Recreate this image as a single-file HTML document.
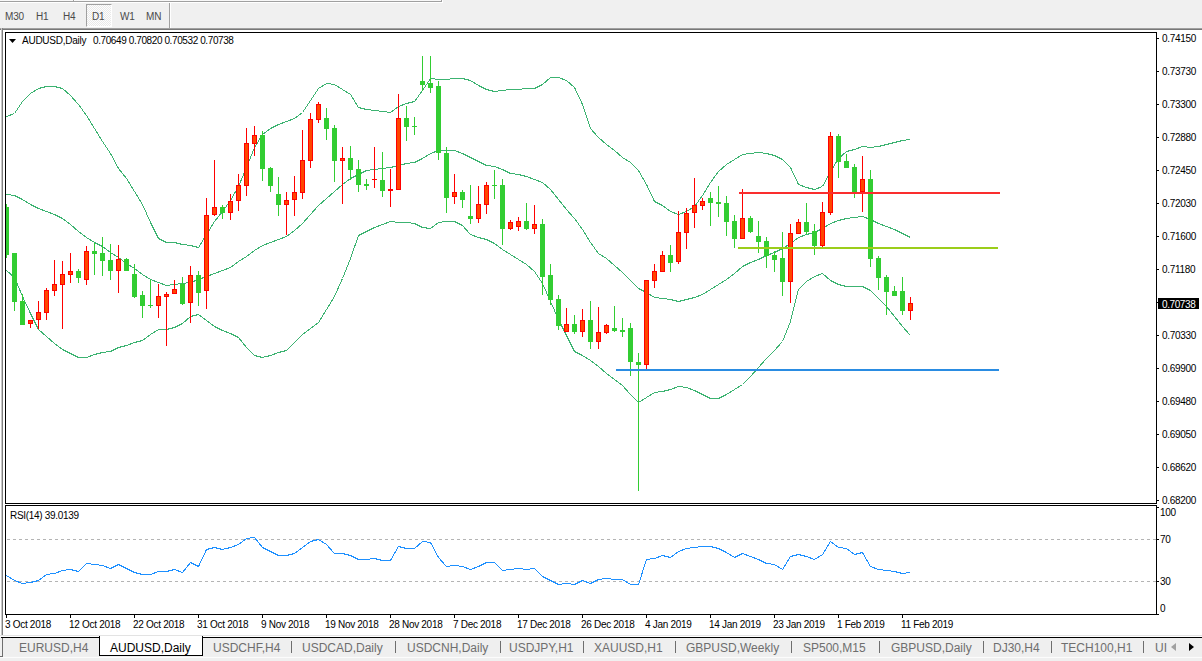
<!DOCTYPE html>
<html><head><meta charset="utf-8"><style>
html,body{margin:0;padding:0;}
body{width:1202px;height:661px;position:relative;overflow:hidden;background:#f0f0f0;font-family:"Liberation Sans",sans-serif;}
.a{position:absolute;}
.t{position:absolute;white-space:nowrap;font-size:10px;line-height:12px;color:#000;letter-spacing:-0.3px;}
.tb{position:absolute;white-space:nowrap;font-size:10px;line-height:12px;color:#4a4a4a;letter-spacing:-0.2px;}
.tab{position:absolute;white-space:nowrap;font-size:12px;line-height:14px;color:#6e6e6e;}
</style></head><body>

<div class="a" style="left:0;top:0;width:441px;height:1px;background:#f8f8f8"></div>
<div class="a" style="left:0;top:1px;width:442px;height:1px;background:#a0a0a0"></div>
<div class="a" style="left:441px;top:0;width:1px;height:2px;background:#a0a0a0"></div>
<div class="a" style="left:0;top:2px;width:443px;height:1px;background:#fff"></div>
<div class="a" style="left:442px;top:0;width:1px;height:3px;background:#fff"></div>
<div class="a" style="left:73px;top:0;width:1px;height:2px;background:#a0a0a0"></div>
<div class="a" style="left:74px;top:0;width:1px;height:1px;background:#fff"></div>
<div class="a" style="left:86px;top:4px;width:24px;height:21px;border-left:1px solid #a0a0a0;border-top:1px solid #a0a0a0;border-right:1px solid #fff;border-bottom:1px solid #fff;background:repeating-conic-gradient(#fdfdfd 0 25%, #e9e9e9 0 50%) 0 0/2px 2px"></div>
<div class="tb" style="left:5px;top:11px">M30</div>
<div class="tb" style="left:36px;top:11px">H1</div>
<div class="tb" style="left:63px;top:11px">H4</div>
<div class="tb" style="left:92px;top:11px">D1</div>
<div class="tb" style="left:120px;top:11px">W1</div>
<div class="tb" style="left:146px;top:11px">MN</div>
<div class="a" style="left:169px;top:3px;width:1px;height:25px;background:#a0a0a0"></div>
<div class="a" style="left:170px;top:3px;width:1px;height:25px;background:#fff"></div>
<div class="a" style="left:0;top:28px;width:1202px;height:1px;background:#a0a0a0"></div>
<div class="a" style="left:0;top:29px;width:1202px;height:1px;background:#787878"></div>
<div class="a" style="left:0;top:30px;width:1202px;height:605px;background:#fff"></div>
<div class="a" style="left:1px;top:28px;width:1px;height:607px;background:#c8c8c8"></div>
<div class="a" style="left:2px;top:28px;width:1px;height:607px;background:#808080"></div>
<svg width="1202" height="661" viewBox="0 0 1202 661" style="position:absolute;left:0;top:0"><defs><clipPath id="cm"><rect x="6" y="33" width="1150" height="470"/></clipPath><clipPath id="cr"><rect x="6" y="506" width="1150" height="108"/></clipPath></defs><g shape-rendering="crispEdges"><rect x="5.5" y="32.5" width="1151" height="471" fill="#fff" stroke="#000" stroke-width="1"/><rect x="5.5" y="505.5" width="1151" height="109" fill="#fff" stroke="#000" stroke-width="1"/></g><g clip-path="url(#cm)"><g fill="none" stroke="#3cb371" stroke-width="1" shape-rendering="crispEdges"><path d="M6.5,116.5 L14.5,113.5 L22.5,101.5 L30.5,93.5 L38.5,88.5 L46.5,86.5 L54.5,86.5 L62.5,88.5 L70.5,95.5 L78.5,104.5 L86.5,115.5 L94.5,128.5 L102.5,141.5 L110.5,153.5 L118.5,168.5 L126.5,178.5 L134.5,191.5 L142.5,204.5 L150.5,222.5 L158.5,238.5 L166.5,242.5 L174.5,242.5 L182.5,244.5 L190.5,245.5 L198.5,247.5 L206.5,234.5 L214.5,221.5 L222.5,211.5 L230.5,200.5 L238.5,186.5 L246.5,167.5 L254.5,147.5 L262.5,134.5 L270.5,128.5 L278.5,124.5 L286.5,121.5 L294.5,118.5 L302.5,112.5 L310.5,100.5 L318.5,88.5 L326.5,83.5 L334.5,84.5 L342.5,89.5 L350.5,94.5 L358.5,107.5 L366.5,109.5 L374.5,110.5 L382.5,111.5 L390.5,112.5 L398.5,106.5 L406.5,103.5 L414.5,101.5 L422.5,90.5 L430.5,78.5 L438.5,79.5 L446.5,79.5 L454.5,78.5 L462.5,78.5 L470.5,80.5 L478.5,85.5 L486.5,89.5 L494.5,91.5 L502.5,90.5 L510.5,89.5 L518.5,89.5 L526.5,88.5 L534.5,88.5 L542.5,84.5 L550.5,77.5 L558.5,77.5 L566.5,80.5 L574.5,87.5 L582.5,104.5 L590.5,128.5 L598.5,137.5 L606.5,144.5 L614.5,150.5 L622.5,157.5 L630.5,162.5 L638.5,170.5 L646.5,184.5 L654.5,201.5 L662.5,205.5 L670.5,211.5 L678.5,214.5 L686.5,211.5 L694.5,206.5 L702.5,195.5 L710.5,182.5 L718.5,171.5 L726.5,164.5 L734.5,159.5 L742.5,154.5 L750.5,153.5 L758.5,152.5 L766.5,153.5 L774.5,155.5 L782.5,159.5 L790.5,167.5 L798.5,184.5 L806.5,187.5 L814.5,189.5 L822.5,186.5 L830.5,171.5 L838.5,158.5 L846.5,151.5 L854.5,149.5 L862.5,146.5 L870.5,147.5 L878.5,146.5 L886.5,144.5 L894.5,142.5 L902.5,140.5 L910.5,139.5"/><path d="M6.5,194.5 L14.5,195.5 L22.5,199.5 L30.5,204.5 L38.5,208.5 L46.5,211.5 L54.5,214.5 L62.5,218.5 L70.5,224.5 L78.5,231.5 L86.5,237.5 L94.5,242.5 L102.5,246.5 L110.5,252.5 L118.5,257.5 L126.5,263.5 L134.5,268.5 L142.5,274.5 L150.5,279.5 L158.5,282.5 L166.5,285.5 L174.5,284.5 L182.5,283.5 L190.5,282.5 L198.5,279.5 L206.5,276.5 L214.5,273.5 L222.5,270.5 L230.5,267.5 L238.5,261.5 L246.5,256.5 L254.5,250.5 L262.5,245.5 L270.5,242.5 L278.5,239.5 L286.5,236.5 L294.5,230.5 L302.5,223.5 L310.5,214.5 L318.5,205.5 L326.5,198.5 L334.5,191.5 L342.5,184.5 L350.5,178.5 L358.5,174.5 L366.5,170.5 L374.5,169.5 L382.5,168.5 L390.5,167.5 L398.5,165.5 L406.5,163.5 L414.5,162.5 L422.5,158.5 L430.5,153.5 L438.5,150.5 L446.5,150.5 L454.5,150.5 L462.5,153.5 L470.5,157.5 L478.5,161.5 L486.5,165.5 L494.5,166.5 L502.5,169.5 L510.5,173.5 L518.5,174.5 L526.5,176.5 L534.5,179.5 L542.5,182.5 L550.5,189.5 L558.5,199.5 L566.5,209.5 L574.5,218.5 L582.5,229.5 L590.5,242.5 L598.5,253.5 L606.5,258.5 L614.5,265.5 L622.5,272.5 L630.5,280.5 L638.5,288.5 L646.5,292.5 L654.5,297.5 L662.5,298.5 L670.5,299.5 L678.5,301.5 L686.5,299.5 L694.5,297.5 L702.5,294.5 L710.5,289.5 L718.5,284.5 L726.5,279.5 L734.5,273.5 L742.5,266.5 L750.5,262.5 L758.5,259.5 L766.5,255.5 L774.5,252.5 L782.5,248.5 L790.5,243.5 L798.5,237.5 L806.5,234.5 L814.5,232.5 L822.5,228.5 L830.5,223.5 L838.5,220.5 L846.5,218.5 L854.5,217.5 L862.5,216.5 L870.5,219.5 L878.5,223.5 L886.5,226.5 L894.5,229.5 L902.5,233.5 L910.5,237.5"/><path d="M6.5,270.5 L14.5,277.5 L22.5,296.5 L30.5,313.5 L38.5,329.5 L46.5,336.5 L54.5,343.5 L62.5,349.5 L70.5,353.5 L78.5,357.5 L86.5,357.5 L94.5,354.5 L102.5,352.5 L110.5,351.5 L118.5,347.5 L126.5,345.5 L134.5,342.5 L142.5,340.5 L150.5,334.5 L158.5,329.5 L166.5,329.5 L174.5,327.5 L182.5,323.5 L190.5,316.5 L198.5,314.5 L206.5,320.5 L214.5,326.5 L222.5,330.5 L230.5,333.5 L238.5,337.5 L246.5,347.5 L254.5,355.5 L262.5,357.5 L270.5,355.5 L278.5,352.5 L286.5,350.5 L294.5,342.5 L302.5,334.5 L310.5,328.5 L318.5,322.5 L326.5,309.5 L334.5,296.5 L342.5,278.5 L350.5,258.5 L358.5,235.5 L366.5,231.5 L374.5,227.5 L382.5,224.5 L390.5,221.5 L398.5,222.5 L406.5,222.5 L414.5,223.5 L422.5,227.5 L430.5,228.5 L438.5,222.5 L446.5,221.5 L454.5,221.5 L462.5,225.5 L470.5,234.5 L478.5,237.5 L486.5,239.5 L494.5,243.5 L502.5,249.5 L510.5,254.5 L518.5,259.5 L526.5,264.5 L534.5,271.5 L542.5,283.5 L550.5,301.5 L558.5,319.5 L566.5,335.5 L574.5,351.5 L582.5,355.5 L590.5,360.5 L598.5,366.5 L606.5,373.5 L614.5,379.5 L622.5,385.5 L630.5,394.5 L638.5,402.5 L646.5,397.5 L654.5,392.5 L662.5,391.5 L670.5,389.5 L678.5,386.5 L686.5,387.5 L694.5,390.5 L702.5,394.5 L710.5,398.5 L718.5,398.5 L726.5,394.5 L734.5,389.5 L742.5,384.5 L750.5,376.5 L758.5,367.5 L766.5,358.5 L774.5,350.5 L782.5,341.5 L790.5,321.5 L798.5,289.5 L806.5,281.5 L814.5,276.5 L822.5,273.5 L830.5,280.5 L838.5,284.5 L846.5,286.5 L854.5,286.5 L862.5,286.5 L870.5,290.5 L878.5,298.5 L886.5,306.5 L894.5,316.5 L902.5,326.5 L910.5,335.5"/></g><g shape-rendering="crispEdges"><rect x="6" y="204" width="1" height="54" fill="#32cd32"/><rect x="4" y="207" width="5" height="48" fill="#32cd32"/><rect x="14" y="253" width="1" height="58" fill="#32cd32"/><rect x="12" y="253" width="5" height="49" fill="#32cd32"/><rect x="22" y="294" width="1" height="31" fill="#32cd32"/><rect x="20" y="301" width="5" height="24" fill="#32cd32"/><rect x="30" y="320" width="1" height="8" fill="#ff0000"/><rect x="28" y="320" width="5" height="4" fill="#ff0000"/><rect x="29" y="321" width="3" height="2" fill="#ff4500"/><rect x="38" y="301" width="1" height="28" fill="#ff0000"/><rect x="36" y="312" width="5" height="8" fill="#ff0000"/><rect x="37" y="313" width="3" height="6" fill="#ff4500"/><rect x="46" y="288" width="1" height="32" fill="#ff0000"/><rect x="44" y="290" width="5" height="23" fill="#ff0000"/><rect x="45" y="291" width="3" height="21" fill="#ff4500"/><rect x="54" y="260" width="1" height="36" fill="#ff0000"/><rect x="52" y="284" width="5" height="7" fill="#ff0000"/><rect x="53" y="285" width="3" height="5" fill="#ff4500"/><rect x="62" y="261" width="1" height="68" fill="#ff0000"/><rect x="60" y="274" width="5" height="11" fill="#ff0000"/><rect x="61" y="275" width="3" height="9" fill="#ff4500"/><rect x="70" y="253" width="1" height="30" fill="#ff0000"/><rect x="68" y="271" width="5" height="4" fill="#ff0000"/><rect x="69" y="272" width="3" height="2" fill="#ff4500"/><rect x="78" y="269" width="1" height="14" fill="#32cd32"/><rect x="76" y="271" width="5" height="7" fill="#32cd32"/><rect x="86" y="246" width="1" height="39" fill="#ff0000"/><rect x="84" y="251" width="5" height="29" fill="#ff0000"/><rect x="85" y="252" width="3" height="27" fill="#ff4500"/><rect x="94" y="243" width="1" height="32" fill="#32cd32"/><rect x="92" y="251" width="5" height="3" fill="#32cd32"/><rect x="102" y="237" width="1" height="39" fill="#32cd32"/><rect x="100" y="253" width="5" height="8" fill="#32cd32"/><rect x="110" y="244" width="1" height="36" fill="#32cd32"/><rect x="108" y="260" width="5" height="11" fill="#32cd32"/><rect x="118" y="245" width="1" height="48" fill="#ff0000"/><rect x="116" y="259" width="5" height="12" fill="#ff0000"/><rect x="117" y="260" width="3" height="10" fill="#ff4500"/><rect x="126" y="258" width="1" height="13" fill="#32cd32"/><rect x="124" y="259" width="5" height="12" fill="#32cd32"/><rect x="134" y="264" width="1" height="34" fill="#32cd32"/><rect x="132" y="274" width="5" height="23" fill="#32cd32"/><rect x="142" y="291" width="1" height="27" fill="#32cd32"/><rect x="140" y="295" width="5" height="11" fill="#32cd32"/><rect x="150" y="280" width="1" height="28" fill="#32cd32"/><rect x="148" y="305" width="5" height="1" fill="#32cd32"/><rect x="158" y="284" width="1" height="34" fill="#ff0000"/><rect x="156" y="296" width="5" height="10" fill="#ff0000"/><rect x="157" y="297" width="3" height="8" fill="#ff4500"/><rect x="166" y="292" width="1" height="54" fill="#ff0000"/><rect x="164" y="294" width="5" height="3" fill="#ff0000"/><rect x="165" y="295" width="3" height="1" fill="#ff4500"/><rect x="174" y="280" width="1" height="14" fill="#ff0000"/><rect x="172" y="289" width="5" height="5" fill="#ff0000"/><rect x="173" y="290" width="3" height="3" fill="#ff4500"/><rect x="182" y="277" width="1" height="28" fill="#32cd32"/><rect x="180" y="284" width="5" height="20" fill="#32cd32"/><rect x="190" y="266" width="1" height="57" fill="#ff0000"/><rect x="188" y="275" width="5" height="28" fill="#ff0000"/><rect x="189" y="276" width="3" height="26" fill="#ff4500"/><rect x="198" y="271" width="1" height="35" fill="#32cd32"/><rect x="196" y="275" width="5" height="18" fill="#32cd32"/><rect x="206" y="198" width="1" height="111" fill="#ff0000"/><rect x="204" y="215" width="5" height="76" fill="#ff0000"/><rect x="205" y="216" width="3" height="74" fill="#ff4500"/><rect x="214" y="160" width="1" height="56" fill="#ff0000"/><rect x="212" y="207" width="5" height="8" fill="#ff0000"/><rect x="213" y="208" width="3" height="6" fill="#ff4500"/><rect x="222" y="205" width="1" height="14" fill="#32cd32"/><rect x="220" y="207" width="5" height="6" fill="#32cd32"/><rect x="230" y="194" width="1" height="26" fill="#ff0000"/><rect x="228" y="201" width="5" height="12" fill="#ff0000"/><rect x="229" y="202" width="3" height="10" fill="#ff4500"/><rect x="238" y="174" width="1" height="37" fill="#ff0000"/><rect x="236" y="185" width="5" height="16" fill="#ff0000"/><rect x="237" y="186" width="3" height="14" fill="#ff4500"/><rect x="246" y="128" width="1" height="68" fill="#ff0000"/><rect x="244" y="143" width="5" height="43" fill="#ff0000"/><rect x="245" y="144" width="3" height="41" fill="#ff4500"/><rect x="254" y="126" width="1" height="30" fill="#ff0000"/><rect x="252" y="135" width="5" height="9" fill="#ff0000"/><rect x="253" y="136" width="3" height="7" fill="#ff4500"/><rect x="262" y="131" width="1" height="50" fill="#32cd32"/><rect x="260" y="135" width="5" height="34" fill="#32cd32"/><rect x="270" y="167" width="1" height="25" fill="#32cd32"/><rect x="268" y="168" width="5" height="18" fill="#32cd32"/><rect x="278" y="177" width="1" height="39" fill="#32cd32"/><rect x="276" y="194" width="5" height="11" fill="#32cd32"/><rect x="286" y="192" width="1" height="43" fill="#ff0000"/><rect x="284" y="200" width="5" height="5" fill="#ff0000"/><rect x="285" y="201" width="3" height="3" fill="#ff4500"/><rect x="294" y="176" width="1" height="40" fill="#ff0000"/><rect x="292" y="192" width="5" height="8" fill="#ff0000"/><rect x="293" y="193" width="3" height="6" fill="#ff4500"/><rect x="302" y="130" width="1" height="69" fill="#ff0000"/><rect x="300" y="160" width="5" height="33" fill="#ff0000"/><rect x="301" y="161" width="3" height="31" fill="#ff4500"/><rect x="310" y="113" width="1" height="55" fill="#ff0000"/><rect x="308" y="119" width="5" height="42" fill="#ff0000"/><rect x="309" y="120" width="3" height="40" fill="#ff4500"/><rect x="318" y="102" width="1" height="21" fill="#ff0000"/><rect x="316" y="104" width="5" height="16" fill="#ff0000"/><rect x="317" y="105" width="3" height="14" fill="#ff4500"/><rect x="326" y="108" width="1" height="32" fill="#32cd32"/><rect x="324" y="118" width="5" height="11" fill="#32cd32"/><rect x="334" y="125" width="1" height="57" fill="#32cd32"/><rect x="332" y="128" width="5" height="33" fill="#32cd32"/><rect x="342" y="147" width="1" height="57" fill="#ff0000"/><rect x="340" y="158" width="5" height="3" fill="#ff0000"/><rect x="341" y="159" width="3" height="1" fill="#ff4500"/><rect x="350" y="146" width="1" height="34" fill="#32cd32"/><rect x="348" y="158" width="5" height="12" fill="#32cd32"/><rect x="358" y="160" width="1" height="32" fill="#32cd32"/><rect x="356" y="169" width="5" height="16" fill="#32cd32"/><rect x="366" y="179" width="1" height="11" fill="#32cd32"/><rect x="364" y="184" width="5" height="2" fill="#32cd32"/><rect x="374" y="147" width="1" height="41" fill="#ff0000"/><rect x="372" y="179" width="5" height="1" fill="#ff0000"/><rect x="382" y="152" width="1" height="45" fill="#32cd32"/><rect x="380" y="180" width="5" height="11" fill="#32cd32"/><rect x="390" y="169" width="1" height="38" fill="#ff0000"/><rect x="388" y="189" width="5" height="2" fill="#ff0000"/><rect x="398" y="94" width="1" height="96" fill="#ff0000"/><rect x="396" y="118" width="5" height="72" fill="#ff0000"/><rect x="397" y="119" width="3" height="70" fill="#ff4500"/><rect x="406" y="106" width="1" height="35" fill="#32cd32"/><rect x="404" y="118" width="5" height="9" fill="#32cd32"/><rect x="414" y="117" width="1" height="18" fill="#32cd32"/><rect x="412" y="126" width="5" height="1" fill="#32cd32"/><rect x="422" y="56" width="1" height="35" fill="#32cd32"/><rect x="420" y="81" width="5" height="4" fill="#32cd32"/><rect x="430" y="56" width="1" height="37" fill="#32cd32"/><rect x="428" y="83" width="5" height="5" fill="#32cd32"/><rect x="438" y="81" width="1" height="79" fill="#32cd32"/><rect x="436" y="86" width="5" height="67" fill="#32cd32"/><rect x="446" y="147" width="1" height="66" fill="#32cd32"/><rect x="444" y="153" width="5" height="45" fill="#32cd32"/><rect x="454" y="174" width="1" height="30" fill="#ff0000"/><rect x="452" y="192" width="5" height="5" fill="#ff0000"/><rect x="453" y="193" width="3" height="3" fill="#ff4500"/><rect x="462" y="190" width="1" height="18" fill="#32cd32"/><rect x="460" y="192" width="5" height="8" fill="#32cd32"/><rect x="470" y="185" width="1" height="39" fill="#32cd32"/><rect x="468" y="216" width="5" height="3" fill="#32cd32"/><rect x="478" y="186" width="1" height="37" fill="#ff0000"/><rect x="476" y="204" width="5" height="15" fill="#ff0000"/><rect x="477" y="205" width="3" height="13" fill="#ff4500"/><rect x="486" y="182" width="1" height="32" fill="#ff0000"/><rect x="484" y="185" width="5" height="20" fill="#ff0000"/><rect x="485" y="186" width="3" height="18" fill="#ff4500"/><rect x="494" y="170" width="1" height="29" fill="#32cd32"/><rect x="492" y="185" width="5" height="1" fill="#32cd32"/><rect x="502" y="179" width="1" height="66" fill="#32cd32"/><rect x="500" y="185" width="5" height="44" fill="#32cd32"/><rect x="510" y="220" width="1" height="10" fill="#ff0000"/><rect x="508" y="222" width="5" height="7" fill="#ff0000"/><rect x="509" y="223" width="3" height="5" fill="#ff4500"/><rect x="518" y="217" width="1" height="14" fill="#ff0000"/><rect x="516" y="221" width="5" height="6" fill="#ff0000"/><rect x="517" y="222" width="3" height="4" fill="#ff4500"/><rect x="526" y="203" width="1" height="27" fill="#32cd32"/><rect x="524" y="221" width="5" height="8" fill="#32cd32"/><rect x="534" y="205" width="1" height="29" fill="#ff0000"/><rect x="532" y="224" width="5" height="5" fill="#ff0000"/><rect x="533" y="225" width="3" height="3" fill="#ff4500"/><rect x="542" y="219" width="1" height="76" fill="#32cd32"/><rect x="540" y="224" width="5" height="53" fill="#32cd32"/><rect x="550" y="264" width="1" height="41" fill="#32cd32"/><rect x="548" y="275" width="5" height="25" fill="#32cd32"/><rect x="558" y="295" width="1" height="35" fill="#32cd32"/><rect x="556" y="299" width="5" height="27" fill="#32cd32"/><rect x="566" y="308" width="1" height="24" fill="#ff0000"/><rect x="564" y="324" width="5" height="8" fill="#ff0000"/><rect x="565" y="325" width="3" height="6" fill="#ff4500"/><rect x="574" y="315" width="1" height="19" fill="#32cd32"/><rect x="572" y="324" width="5" height="8" fill="#32cd32"/><rect x="582" y="309" width="1" height="28" fill="#ff0000"/><rect x="580" y="320" width="5" height="12" fill="#ff0000"/><rect x="581" y="321" width="3" height="10" fill="#ff4500"/><rect x="590" y="301" width="1" height="48" fill="#32cd32"/><rect x="588" y="320" width="5" height="22" fill="#32cd32"/><rect x="598" y="307" width="1" height="42" fill="#ff0000"/><rect x="596" y="332" width="5" height="10" fill="#ff0000"/><rect x="597" y="333" width="3" height="8" fill="#ff4500"/><rect x="606" y="324" width="1" height="10" fill="#ff0000"/><rect x="604" y="325" width="5" height="8" fill="#ff0000"/><rect x="605" y="326" width="3" height="6" fill="#ff4500"/><rect x="614" y="306" width="1" height="26" fill="#32cd32"/><rect x="612" y="328" width="5" height="3" fill="#32cd32"/><rect x="622" y="318" width="1" height="19" fill="#32cd32"/><rect x="620" y="330" width="5" height="2" fill="#32cd32"/><rect x="630" y="323" width="1" height="53" fill="#32cd32"/><rect x="628" y="328" width="5" height="34" fill="#32cd32"/><rect x="638" y="353" width="1" height="138" fill="#32cd32"/><rect x="636" y="362" width="5" height="3" fill="#32cd32"/><rect x="646" y="280" width="1" height="89" fill="#ff0000"/><rect x="644" y="280" width="5" height="85" fill="#ff0000"/><rect x="645" y="281" width="3" height="83" fill="#ff4500"/><rect x="654" y="264" width="1" height="24" fill="#ff0000"/><rect x="652" y="271" width="5" height="10" fill="#ff0000"/><rect x="653" y="272" width="3" height="8" fill="#ff4500"/><rect x="662" y="251" width="1" height="21" fill="#ff0000"/><rect x="660" y="255" width="5" height="17" fill="#ff0000"/><rect x="661" y="256" width="3" height="15" fill="#ff4500"/><rect x="670" y="245" width="1" height="27" fill="#32cd32"/><rect x="668" y="255" width="5" height="8" fill="#32cd32"/><rect x="678" y="211" width="1" height="53" fill="#ff0000"/><rect x="676" y="232" width="5" height="30" fill="#ff0000"/><rect x="677" y="233" width="3" height="28" fill="#ff4500"/><rect x="686" y="208" width="1" height="41" fill="#ff0000"/><rect x="684" y="213" width="5" height="20" fill="#ff0000"/><rect x="685" y="214" width="3" height="18" fill="#ff4500"/><rect x="694" y="178" width="1" height="50" fill="#ff0000"/><rect x="692" y="205" width="5" height="8" fill="#ff0000"/><rect x="693" y="206" width="3" height="6" fill="#ff4500"/><rect x="702" y="198" width="1" height="12" fill="#ff0000"/><rect x="700" y="201" width="5" height="5" fill="#ff0000"/><rect x="701" y="202" width="3" height="3" fill="#ff4500"/><rect x="710" y="192" width="1" height="34" fill="#32cd32"/><rect x="708" y="198" width="5" height="5" fill="#32cd32"/><rect x="718" y="186" width="1" height="31" fill="#32cd32"/><rect x="716" y="202" width="5" height="2" fill="#32cd32"/><rect x="726" y="196" width="1" height="40" fill="#32cd32"/><rect x="724" y="203" width="5" height="19" fill="#32cd32"/><rect x="734" y="215" width="1" height="33" fill="#32cd32"/><rect x="732" y="221" width="5" height="18" fill="#32cd32"/><rect x="742" y="189" width="1" height="50" fill="#ff0000"/><rect x="740" y="218" width="5" height="21" fill="#ff0000"/><rect x="741" y="219" width="3" height="19" fill="#ff4500"/><rect x="750" y="216" width="1" height="17" fill="#32cd32"/><rect x="748" y="218" width="5" height="14" fill="#32cd32"/><rect x="758" y="221" width="1" height="32" fill="#32cd32"/><rect x="756" y="236" width="5" height="6" fill="#32cd32"/><rect x="766" y="237" width="1" height="31" fill="#32cd32"/><rect x="764" y="241" width="5" height="15" fill="#32cd32"/><rect x="774" y="251" width="1" height="21" fill="#32cd32"/><rect x="772" y="255" width="5" height="5" fill="#32cd32"/><rect x="782" y="232" width="1" height="64" fill="#32cd32"/><rect x="780" y="258" width="5" height="24" fill="#32cd32"/><rect x="790" y="224" width="1" height="79" fill="#ff0000"/><rect x="788" y="233" width="5" height="49" fill="#ff0000"/><rect x="789" y="234" width="3" height="47" fill="#ff4500"/><rect x="798" y="219" width="1" height="15" fill="#ff0000"/><rect x="796" y="222" width="5" height="12" fill="#ff0000"/><rect x="797" y="223" width="3" height="10" fill="#ff4500"/><rect x="806" y="203" width="1" height="31" fill="#32cd32"/><rect x="804" y="222" width="5" height="10" fill="#32cd32"/><rect x="814" y="224" width="1" height="31" fill="#32cd32"/><rect x="812" y="231" width="5" height="15" fill="#32cd32"/><rect x="822" y="202" width="1" height="45" fill="#ff0000"/><rect x="820" y="212" width="5" height="34" fill="#ff0000"/><rect x="821" y="213" width="3" height="32" fill="#ff4500"/><rect x="830" y="132" width="1" height="83" fill="#ff0000"/><rect x="828" y="136" width="5" height="77" fill="#ff0000"/><rect x="829" y="137" width="3" height="75" fill="#ff4500"/><rect x="838" y="134" width="1" height="44" fill="#32cd32"/><rect x="836" y="136" width="5" height="26" fill="#32cd32"/><rect x="846" y="154" width="1" height="14" fill="#32cd32"/><rect x="844" y="161" width="5" height="7" fill="#32cd32"/><rect x="854" y="164" width="1" height="34" fill="#32cd32"/><rect x="852" y="167" width="5" height="25" fill="#32cd32"/><rect x="862" y="156" width="1" height="56" fill="#ff0000"/><rect x="860" y="179" width="5" height="13" fill="#ff0000"/><rect x="861" y="180" width="3" height="11" fill="#ff4500"/><rect x="870" y="170" width="1" height="97" fill="#32cd32"/><rect x="868" y="179" width="5" height="80" fill="#32cd32"/><rect x="878" y="256" width="1" height="34" fill="#32cd32"/><rect x="876" y="258" width="5" height="20" fill="#32cd32"/><rect x="886" y="275" width="1" height="40" fill="#32cd32"/><rect x="884" y="277" width="5" height="15" fill="#32cd32"/><rect x="894" y="286" width="1" height="10" fill="#32cd32"/><rect x="892" y="291" width="5" height="5" fill="#32cd32"/><rect x="902" y="277" width="1" height="38" fill="#32cd32"/><rect x="900" y="291" width="5" height="20" fill="#32cd32"/><rect x="910" y="297" width="1" height="23" fill="#ff0000"/><rect x="908" y="303" width="5" height="8" fill="#ff0000"/><rect x="909" y="304" width="3" height="6" fill="#ff4500"/></g><g shape-rendering="crispEdges"><rect x="739" y="192" width="261" height="2" fill="#fa2e2e"/><rect x="738" y="247" width="260" height="2" fill="#9bcd1a"/><rect x="616" y="369" width="383" height="2" fill="#2a8ce2"/></g></g><g clip-path="url(#cr)"><g shape-rendering="crispEdges" stroke="#b4b4b4" stroke-width="1" stroke-dasharray="3 3"><line x1="7" y1="539.5" x2="1156" y2="539.5"/><line x1="7" y1="581.5" x2="1156" y2="581.5"/></g><path d="M6.5,575.5 L14.5,580.5 L22.5,583.5 L30.5,582.5 L38.5,580.5 L46.5,574.5 L54.5,573.5 L62.5,570.5 L70.5,569.5 L78.5,571.5 L86.5,563.5 L94.5,564.5 L102.5,565.5 L110.5,568.5 L118.5,564.5 L126.5,568.5 L134.5,572.5 L142.5,574.5 L150.5,574.5 L158.5,571.5 L166.5,571.5 L174.5,569.5 L182.5,572.5 L190.5,562.5 L198.5,566.5 L206.5,549.5 L214.5,547.5 L222.5,549.5 L230.5,547.5 L238.5,544.5 L246.5,538.5 L254.5,537.5 L262.5,547.5 L270.5,551.5 L278.5,555.5 L286.5,555.5 L294.5,553.5 L302.5,547.5 L310.5,541.5 L318.5,539.5 L326.5,544.5 L334.5,553.5 L342.5,553.5 L350.5,555.5 L358.5,559.5 L366.5,559.5 L374.5,558.5 L382.5,560.5 L390.5,560.5 L398.5,546.5 L406.5,548.5 L414.5,548.5 L422.5,541.5 L430.5,542.5 L438.5,557.5 L446.5,566.5 L454.5,565.5 L462.5,566.5 L470.5,569.5 L478.5,566.5 L486.5,562.5 L494.5,562.5 L502.5,570.5 L510.5,569.5 L518.5,568.5 L526.5,569.5 L534.5,568.5 L542.5,576.5 L550.5,580.5 L558.5,584.5 L566.5,583.5 L574.5,584.5 L582.5,580.5 L590.5,583.5 L598.5,579.5 L606.5,578.5 L614.5,579.5 L622.5,579.5 L630.5,584.5 L638.5,584.5 L646.5,559.5 L654.5,558.5 L662.5,555.5 L670.5,557.5 L678.5,551.5 L686.5,548.5 L694.5,547.5 L702.5,546.5 L710.5,546.5 L718.5,548.5 L726.5,552.5 L734.5,557.5 L742.5,553.5 L750.5,556.5 L758.5,559.5 L766.5,563.5 L774.5,564.5 L782.5,569.5 L790.5,556.5 L798.5,554.5 L806.5,556.5 L814.5,559.5 L822.5,554.5 L830.5,541.5 L838.5,547.5 L846.5,548.5 L854.5,554.5 L862.5,552.5 L870.5,566.5 L878.5,569.5 L886.5,570.5 L894.5,571.5 L902.5,573.5 L910.5,572.5" fill="none" stroke="#1e90ff" stroke-width="1" shape-rendering="crispEdges"/></g><g shape-rendering="crispEdges" fill="#000"><rect x="1157" y="38" width="2" height="1"/><rect x="1157" y="71" width="2" height="1"/><rect x="1157" y="104" width="2" height="1"/><rect x="1157" y="137" width="2" height="1"/><rect x="1157" y="170" width="2" height="1"/><rect x="1157" y="203" width="2" height="1"/><rect x="1157" y="236" width="2" height="1"/><rect x="1157" y="269" width="2" height="1"/><rect x="1157" y="302" width="2" height="1"/><rect x="1157" y="335" width="2" height="1"/><rect x="1157" y="368" width="2" height="1"/><rect x="1157" y="401" width="2" height="1"/><rect x="1157" y="434" width="2" height="1"/><rect x="1157" y="467" width="2" height="1"/><rect x="1157" y="500" width="2" height="1"/><rect x="1157" y="302" width="2" height="1"/><rect x="1157" y="507" width="2" height="1"/><rect x="1157" y="539" width="2" height="1"/><rect x="1157" y="581" width="2" height="1"/><rect x="1157" y="614" width="2" height="1"/><rect x="6" y="615" width="1" height="3"/><rect x="70" y="615" width="1" height="3"/><rect x="134" y="615" width="1" height="3"/><rect x="198" y="615" width="1" height="3"/><rect x="262" y="615" width="1" height="3"/><rect x="326" y="615" width="1" height="3"/><rect x="390" y="615" width="1" height="3"/><rect x="454" y="615" width="1" height="3"/><rect x="518" y="615" width="1" height="3"/><rect x="582" y="615" width="1" height="3"/><rect x="646" y="615" width="1" height="3"/><rect x="710" y="615" width="1" height="3"/><rect x="774" y="615" width="1" height="3"/><rect x="838" y="615" width="1" height="3"/><rect x="902" y="615" width="1" height="3"/></g></svg>
<svg class="a" style="left:9px;top:39px" width="7" height="4"><path d="M0 0H7L3.5 4Z" fill="#000"/></svg>
<div class="t" style="left:22px;top:35px;letter-spacing:-0.25px">AUDUSD,Daily</div>
<div class="t" style="left:93px;top:35px;letter-spacing:-0.4px">0.70649 0.70820 0.70532 0.70738</div>
<div class="t" style="left:10px;top:510px">RSI(14) 39.0139</div>
<div class="t" style="left:1162px;top:33px">0.74150</div>
<div class="t" style="left:1162px;top:66px">0.73730</div>
<div class="t" style="left:1162px;top:99px">0.73300</div>
<div class="t" style="left:1162px;top:132px">0.72880</div>
<div class="t" style="left:1162px;top:165px">0.72450</div>
<div class="t" style="left:1162px;top:198px">0.72030</div>
<div class="t" style="left:1162px;top:231px">0.71600</div>
<div class="t" style="left:1162px;top:264px">0.71180</div>
<div class="a" style="left:1158px;top:298px;width:41px;height:11px;background:#000"></div>
<div class="t" style="left:1162px;top:299px;color:#fff;letter-spacing:-0.4px">0.70738</div>
<div class="t" style="left:1162px;top:330px">0.70330</div>
<div class="t" style="left:1162px;top:363px">0.69900</div>
<div class="t" style="left:1162px;top:396px">0.69480</div>
<div class="t" style="left:1162px;top:429px">0.69050</div>
<div class="t" style="left:1162px;top:462px">0.68620</div>
<div class="t" style="left:1162px;top:495px">0.68200</div>
<div class="t" style="left:1160px;top:507px">100</div>
<div class="t" style="left:1160px;top:534px">70</div>
<div class="t" style="left:1160px;top:576px">30</div>
<div class="t" style="left:1160px;top:603px">0</div>
<div class="t" style="left:5px;top:619px">3 Oct 2018</div>
<div class="t" style="left:69px;top:619px">12 Oct 2018</div>
<div class="t" style="left:133px;top:619px">22 Oct 2018</div>
<div class="t" style="left:197px;top:619px">31 Oct 2018</div>
<div class="t" style="left:261px;top:619px">9 Nov 2018</div>
<div class="t" style="left:325px;top:619px">19 Nov 2018</div>
<div class="t" style="left:389px;top:619px">28 Nov 2018</div>
<div class="t" style="left:453px;top:619px">7 Dec 2018</div>
<div class="t" style="left:517px;top:619px">17 Dec 2018</div>
<div class="t" style="left:581px;top:619px">26 Dec 2018</div>
<div class="t" style="left:645px;top:619px">4 Jan 2019</div>
<div class="t" style="left:709px;top:619px">14 Jan 2019</div>
<div class="t" style="left:773px;top:619px">23 Jan 2019</div>
<div class="t" style="left:837px;top:619px">1 Feb 2019</div>
<div class="t" style="left:901px;top:619px">11 Feb 2019</div>
<div class="a" style="left:0;top:635px;width:1202px;height:1px;background:#e3e3e3"></div>
<div class="a" style="left:0;top:636px;width:1202px;height:1px;background:#fff"></div>
<div class="a" style="left:1px;top:637px;width:1201px;height:1px;background:#000"></div>
<div class="a" style="left:3px;top:638px;width:1199px;height:18px;background:#efefef"></div>
<div class="a" style="left:2px;top:638px;width:1px;height:18px;background:#6e6e6e"></div>
<div class="a" style="left:0;top:656px;width:3px;height:1px;background:#6e6e6e"></div>
<div class="a" style="left:0;top:657px;width:1202px;height:1px;background:#fcfcfc"></div>
<div class="a" style="left:99px;top:636px;width:102px;height:19px;background:#fff;border-left:1px solid #000;border-right:1px solid #000;border-bottom:1px solid #000"></div>
<div class="tab" style="left:110px;top:641px;color:#000">AUDUSD,Daily</div>
<div class="tab" style="left:19px;top:641px">EURUSD,H4</div>
<div class="tab" style="left:213px;top:641px">USDCHF,H4</div>
<div class="tab" style="left:302px;top:641px">USDCAD,Daily</div>
<div class="tab" style="left:407px;top:641px">USDCNH,Daily</div>
<div class="tab" style="left:509px;top:641px">USDJPY,H1</div>
<div class="tab" style="left:594px;top:641px">XAUUSD,H1</div>
<div class="tab" style="left:686px;top:641px">GBPUSD,Weekly</div>
<div class="tab" style="left:803px;top:641px">SP500,M15</div>
<div class="tab" style="left:891px;top:641px">GBPUSD,Daily</div>
<div class="tab" style="left:993px;top:641px">DJ30,H4</div>
<div class="tab" style="left:1061px;top:641px">TECH100,H1</div>
<div class="tab" style="left:1155px;top:641px">UI</div>
<div class="a" style="left:291px;top:641px;width:1px;height:12px;background:#6e6e6e"></div>
<div class="a" style="left:395px;top:641px;width:1px;height:12px;background:#6e6e6e"></div>
<div class="a" style="left:500px;top:641px;width:1px;height:12px;background:#6e6e6e"></div>
<div class="a" style="left:583px;top:641px;width:1px;height:12px;background:#6e6e6e"></div>
<div class="a" style="left:675px;top:641px;width:1px;height:12px;background:#6e6e6e"></div>
<div class="a" style="left:791px;top:641px;width:1px;height:12px;background:#6e6e6e"></div>
<div class="a" style="left:879px;top:641px;width:1px;height:12px;background:#6e6e6e"></div>
<div class="a" style="left:983px;top:641px;width:1px;height:12px;background:#6e6e6e"></div>
<div class="a" style="left:1051px;top:641px;width:1px;height:12px;background:#6e6e6e"></div>
<div class="a" style="left:1143px;top:641px;width:1px;height:12px;background:#6e6e6e"></div>
<svg class="a" style="left:1171px;top:643px" width="6" height="9"><path d="M5 0V8L0 4Z" fill="#a0a0a0"/></svg>
<svg class="a" style="left:1189px;top:643px" width="6" height="9"><path d="M0 0V8L5 4Z" fill="#000"/></svg>
</body></html>
